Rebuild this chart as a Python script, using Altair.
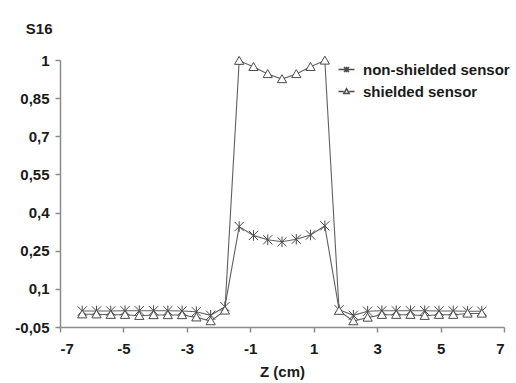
import altair as alt
import pandas as pd

# Position along the sensor axis (cm)
z_cm = [-6.3, -5.85, -5.4, -4.95, -4.5, -4.05, -3.6, -3.15, -2.7, -2.25,
        -1.8, -1.35, -0.9, -0.45, 0.0, 0.45, 0.9, 1.35, 1.8, 2.25,
        2.7, 3.15, 3.6, 4.05, 4.5, 4.95, 5.4, 5.85, 6.3]

# Normalised S16 response for each sensor
non_shielded = [0.013, 0.013, 0.013, 0.014, 0.014, 0.014, 0.014, 0.013, 0.010, -0.004,
                0.030, 0.345, 0.310, 0.293, 0.285, 0.295, 0.312, 0.348, 0.018, -0.004,
                0.012, 0.014, 0.014, 0.014, 0.014, 0.013, 0.013, 0.012, 0.012]
shielded = [0.000, 0.000, -0.002, -0.002, -0.006, -0.003, -0.003, -0.003, -0.012, -0.027,
            0.015, 0.997, 0.973, 0.945, 0.925, 0.945, 0.973, 0.998, 0.014, -0.027,
            -0.013, -0.002, -0.002, -0.002, -0.006, -0.002, -0.002, 0.003, 0.003]

sensors = ["non-shielded sensor", "shielded sensor"]
x_ticks = [-7, -5, -3, -1, 1, 3, 5, 7]
y_ticks = [-0.05, 0.1, 0.25, 0.4, 0.55, 0.7, 0.85, 1]

# Marker outlines (custom symbol paths in unit coordinates)
STAR = "M-1,-1L1,1M-1,1L1,-1M0,-1.15L0,1.15"
TRIANGLE = "M-1,0.78L0,-0.95L1,0.78Z"
STAR_KEY = "M-1.6,0L1.6,0M-0.5,-0.5L0.5,0.5M-0.5,0.5L0.5,-0.5M0,-0.55L0,0.55"
TRIANGLE_KEY = "M-1.6,0L-0.55,0M0.55,0L1.6,0M-0.55,0.42L0,-0.55L0.55,0.42Z"

n = len(z_cm)
df = pd.DataFrame({
    "z": z_cm * 2,
    "s16": non_shielded + shielded,
    "sensor": [sensors[0]] * n + [sensors[1]] * n,
})

FONT = "Liberation Sans"
GREY_LINE = "#606060"
GREY_MARK = "#4a4a4a"
TEXT = "#1a1a1a"
comma_label = "replace(datum.value + '', '.', ',')"

x_enc = alt.X(
    "z:Q",
    scale=alt.Scale(domain=[-7, 7], nice=False, zero=False),
    axis=alt.Axis(values=x_ticks, labelExpr=comma_label, title="Z (cm)",
                  labelPadding=9, titleY=37, titleBaseline="top"),
)
y_enc = alt.Y(
    "s16:Q",
    scale=alt.Scale(domain=[-0.05, 1], nice=False, zero=False),
    axis=alt.Axis(values=y_ticks, labelExpr=comma_label, title="S16",
                  titleAngle=0, titleAlign="right", titleBaseline="alphabetic",
                  titleX=-8, titleY=-27, labelPadding=6),
)

lines = alt.Chart(df).mark_line(color=GREY_LINE, strokeWidth=1.1).encode(
    x=x_enc, y=y_enc, detail="sensor:N"
)

points = alt.Chart(df).mark_point(
    fill="white", fillOpacity=1, stroke=GREY_MARK, strokeWidth=1, opacity=1, size=85
).encode(
    x=x_enc, y=y_enc,
    shape=alt.Shape("sensor:N", scale=alt.Scale(domain=sensors, range=[STAR, TRIANGLE]),
                    legend=None),
)

# Key entries: line-plus-marker symbols; this layer draws no points itself
key = alt.Chart(df).transform_filter("datum.z > 100").mark_point(
    fill="white", fillOpacity=1, stroke=GREY_MARK, strokeWidth=1, opacity=1, size=256
).encode(
    x=x_enc, y=y_enc,
    shape=alt.Shape(
        "sensor:N",
        scale=alt.Scale(domain=sensors, range=[STAR_KEY, TRIANGLE_KEY]),
        legend=alt.Legend(
            title=None, orient="none", legendX=279, legendY=2,
            labelFont=FONT, labelFontSize=15, labelFontWeight="bold",
            labelColor=TEXT, labelOffset=9, rowPadding=6, padding=0,
        ),
    ),
)

chart = alt.layer(lines, points, key).resolve_scale(shape="independent").properties(
    width=444, height=267,
    autosize=alt.AutoSizeParams(type="none"),
    padding={"left": 60, "top": 60, "right": 12, "bottom": 56},
).configure_view(stroke=None).configure_axis(
    grid=False,
    domainColor="#8c8c8c", domainWidth=1.5,
    tickColor="#8c8c8c", tickWidth=1.5, tickSize=5,
    labelFont=FONT, labelFontSize=15, labelFontWeight="bold", labelColor=TEXT,
    titleFont=FONT, titleFontSize=15, titleFontWeight="bold", titleColor=TEXT,
)

chart.save("out.html", embed_options={"renderer": "svg", "actions": False})
